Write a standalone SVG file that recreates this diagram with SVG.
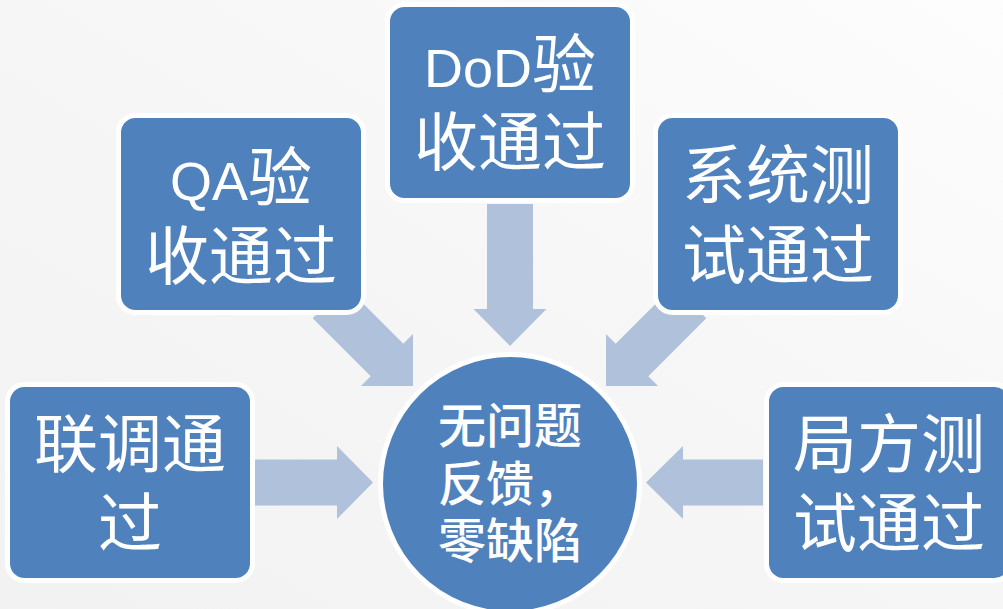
<svg xmlns="http://www.w3.org/2000/svg" width="1003" height="609" viewBox="0 0 1003 609">
  <defs>
    <linearGradient id="bg" x1="0" y1="1" x2="1" y2="0">
      <stop offset="0" stop-color="#F2F2F2"/>
      <stop offset="0.5" stop-color="#F6F6F7"/>
      <stop offset="1" stop-color="#FDFDFE"/>
    </linearGradient>
    <style>
      .box { fill: #4F81BD; stroke: #FFFFFF; stroke-width: 5; }
      .arrow { fill: #B0C1DC; stroke: none; }
      .lbl { fill: #FFFFFF; font-family: "Noto Sans CJK SC", "Liberation Sans", sans-serif; font-size: 64px; text-anchor: middle; }
      .lat { font-family: "Liberation Sans", "Noto Sans CJK SC", sans-serif; font-size: 54px; }
      .mid { fill: #FFFFFF; font-family: "Noto Sans CJK SC", sans-serif; font-size: 48px; font-weight: 500; text-anchor: middle; }
    </style>
  </defs>
  <rect x="0" y="0" width="1003" height="609" fill="url(#bg)"/>

  <g id="connectors">
    <path class="arrow" d="M255,459.5 H337 V446 L373,482.5 L337,519 V505.5 H255 Z"/>
    <path class="arrow" d="M763,459.5 H683 V446 L646,482.5 L683,519 V505.5 H763 Z"/>
    <path class="arrow" d="M487,204 H533 V309 H546.5 L510,346 L473.5,309 H487 Z"/>
    <path class="arrow" d="M413,386 L361,386 L370.7,376.3 L312.7,318.3 L345.3,285.7 L403.3,343.7 L413,334 Z"/>
    <path class="arrow" d="M606,386 L658,386 L648.3,376.3 L706.3,318.3 L673.7,285.7 L615.7,343.7 L606,334 Z"/>
  </g>

  <g id="node-liantiao">
    <rect class="box" x="7.5" y="384.5" width="245" height="196" rx="17"/>
    <text class="lbl" x="130" y="467">联调通</text>
    <text class="lbl" x="130" y="546">过</text>
  </g>

  <g id="node-qa">
    <rect class="box" x="118.5" y="115.5" width="245" height="197" rx="17"/>
    <text class="lbl" x="241" y="200"><tspan class="lat">QA</tspan>验</text>
    <text class="lbl" x="241" y="279">收通过</text>
  </g>

  <g id="node-dod">
    <rect class="box" x="387.5" y="4.5" width="245" height="196" rx="17"/>
    <text class="lbl" x="510" y="87"><tspan class="lat">DoD</tspan>验</text>
    <text class="lbl" x="510" y="165">收通过</text>
  </g>

  <g id="node-xitong">
    <rect class="box" x="655.5" y="115.5" width="245" height="197" rx="17"/>
    <text class="lbl" x="778" y="198">系统测</text>
    <text class="lbl" x="778" y="278">试通过</text>
  </g>

  <g id="node-jufang">
    <rect class="box" x="766.5" y="384.5" width="245" height="196" rx="17"/>
    <text class="lbl" x="889" y="467">局方测</text>
    <text class="lbl" x="889" y="546">试通过</text>
  </g>

  <g id="node-center">
    <circle class="box" cx="510" cy="484" r="129.5"/>
    <text class="mid" x="510" y="443">无问题</text>
    <text class="mid" x="510" y="501">反馈，</text>
    <text class="mid" x="510" y="558">零缺陷</text>
  </g>
</svg>
